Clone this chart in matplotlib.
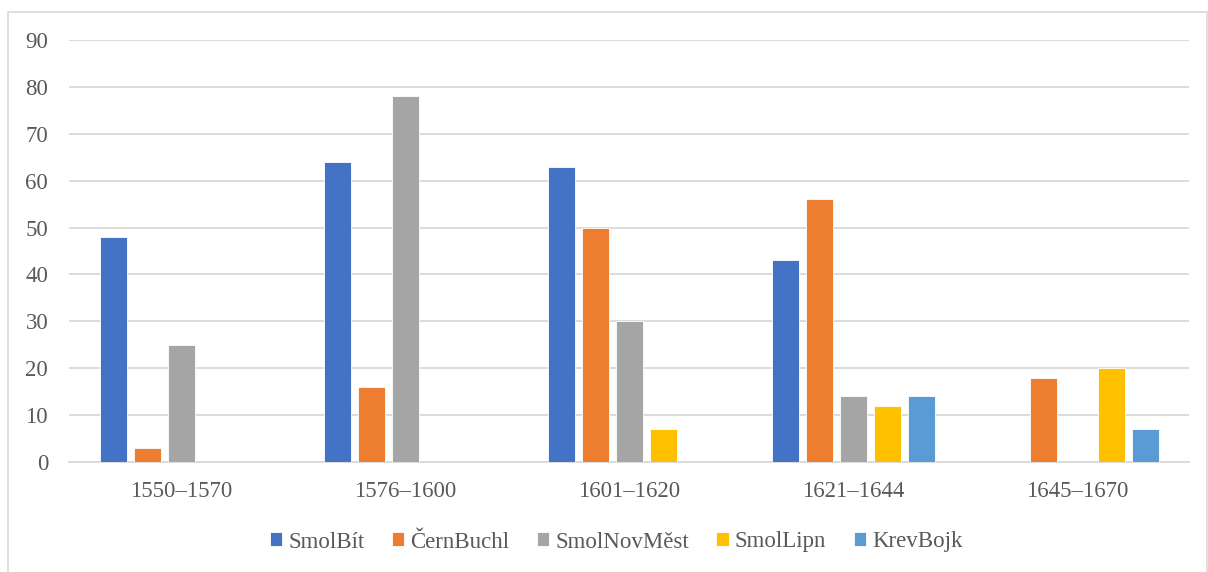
import numpy as np
import matplotlib
matplotlib.use("Agg")
import matplotlib.pyplot as plt
from matplotlib.patches import Rectangle

plt.rcParams['font.family'] = ['Liberation Serif', 'DejaVu Serif']

periods = ["1550–1570", "1576–1600", "1601–1620", "1621–1644", "1645–1670"]
series_names = ["SmolBít", "ČernBuchl", "SmolNovMěst", "SmolLipn", "KrevBojk"]
smol_bit = [48, 64, 63, 43, np.nan]
cern_buchl = [3, 16, 50, 56, 18]
smol_nov_mest = [25, 78, 30, 14, np.nan]
smol_lipn = [np.nan, np.nan, 7, 12, 20]
krev_bojk = [np.nan, np.nan, np.nan, 14, 7]
y_ticks = list(range(0, 100, 10))

series = [smol_bit, cern_buchl, smol_nov_mest, smol_lipn, krev_bojk]
colors = ["#4472C4", "#ED7D31", "#A5A5A5", "#FFC000", "#5B9BD5"]
text_color = "#595959"
grid_color = "#D9D9D9"

W, H = 1208, 572
fig = plt.figure(figsize=(W / 100, H / 100), dpi=100)
ax = fig.add_axes([69 / W, 110 / H, 1120 / W, 422 / H])

# outer chart frame (bottom edge runs past the canvas)
fig.patches.append(Rectangle((8 / W, -4 / H), 1199 / W, 564 / H,
                             transform=fig.transFigure, fill=False,
                             edgecolor=grid_color, linewidth=1.2))

x = np.arange(len(periods))
slot = 34 / 224
width = 27 / 224
for i, (vals, name, col) in enumerate(zip(series, series_names, colors)):
    offs = (i - 2) * slot
    ax.bar(x + offs, vals, width=width, color=col, label=name,
           edgecolor="white", linewidth=0.6, zorder=3)

ax.set_xlim(-0.5, len(periods) - 0.5)
ax.set_ylim(0, 90)
ax.set_yticks(y_ticks)
ax.set_xticks(x)
ax.set_xticklabels(periods)
ax.yaxis.grid(True, color=grid_color, linewidth=1.3, zorder=0)
ax.set_axisbelow(True)
for side in ["top", "right", "left"]:
    ax.spines[side].set_visible(False)
ax.spines["bottom"].set_color(grid_color)
ax.spines["bottom"].set_linewidth(1.3)
ax.tick_params(axis="both", length=0, labelsize=16.5, colors=text_color)
ax.tick_params(axis="y", pad=15)
ax.tick_params(axis="x", pad=14)

fig.legend(loc="center", bbox_to_anchor=(616 / W, 1 - 542 / H), ncol=5,
           frameon=False, fontsize=16.5, labelcolor=text_color,
           handlelength=0.55, handleheight=0.55, handletextpad=0.25,
           columnspacing=1.2)

fig.savefig("out.png", dpi=100)
